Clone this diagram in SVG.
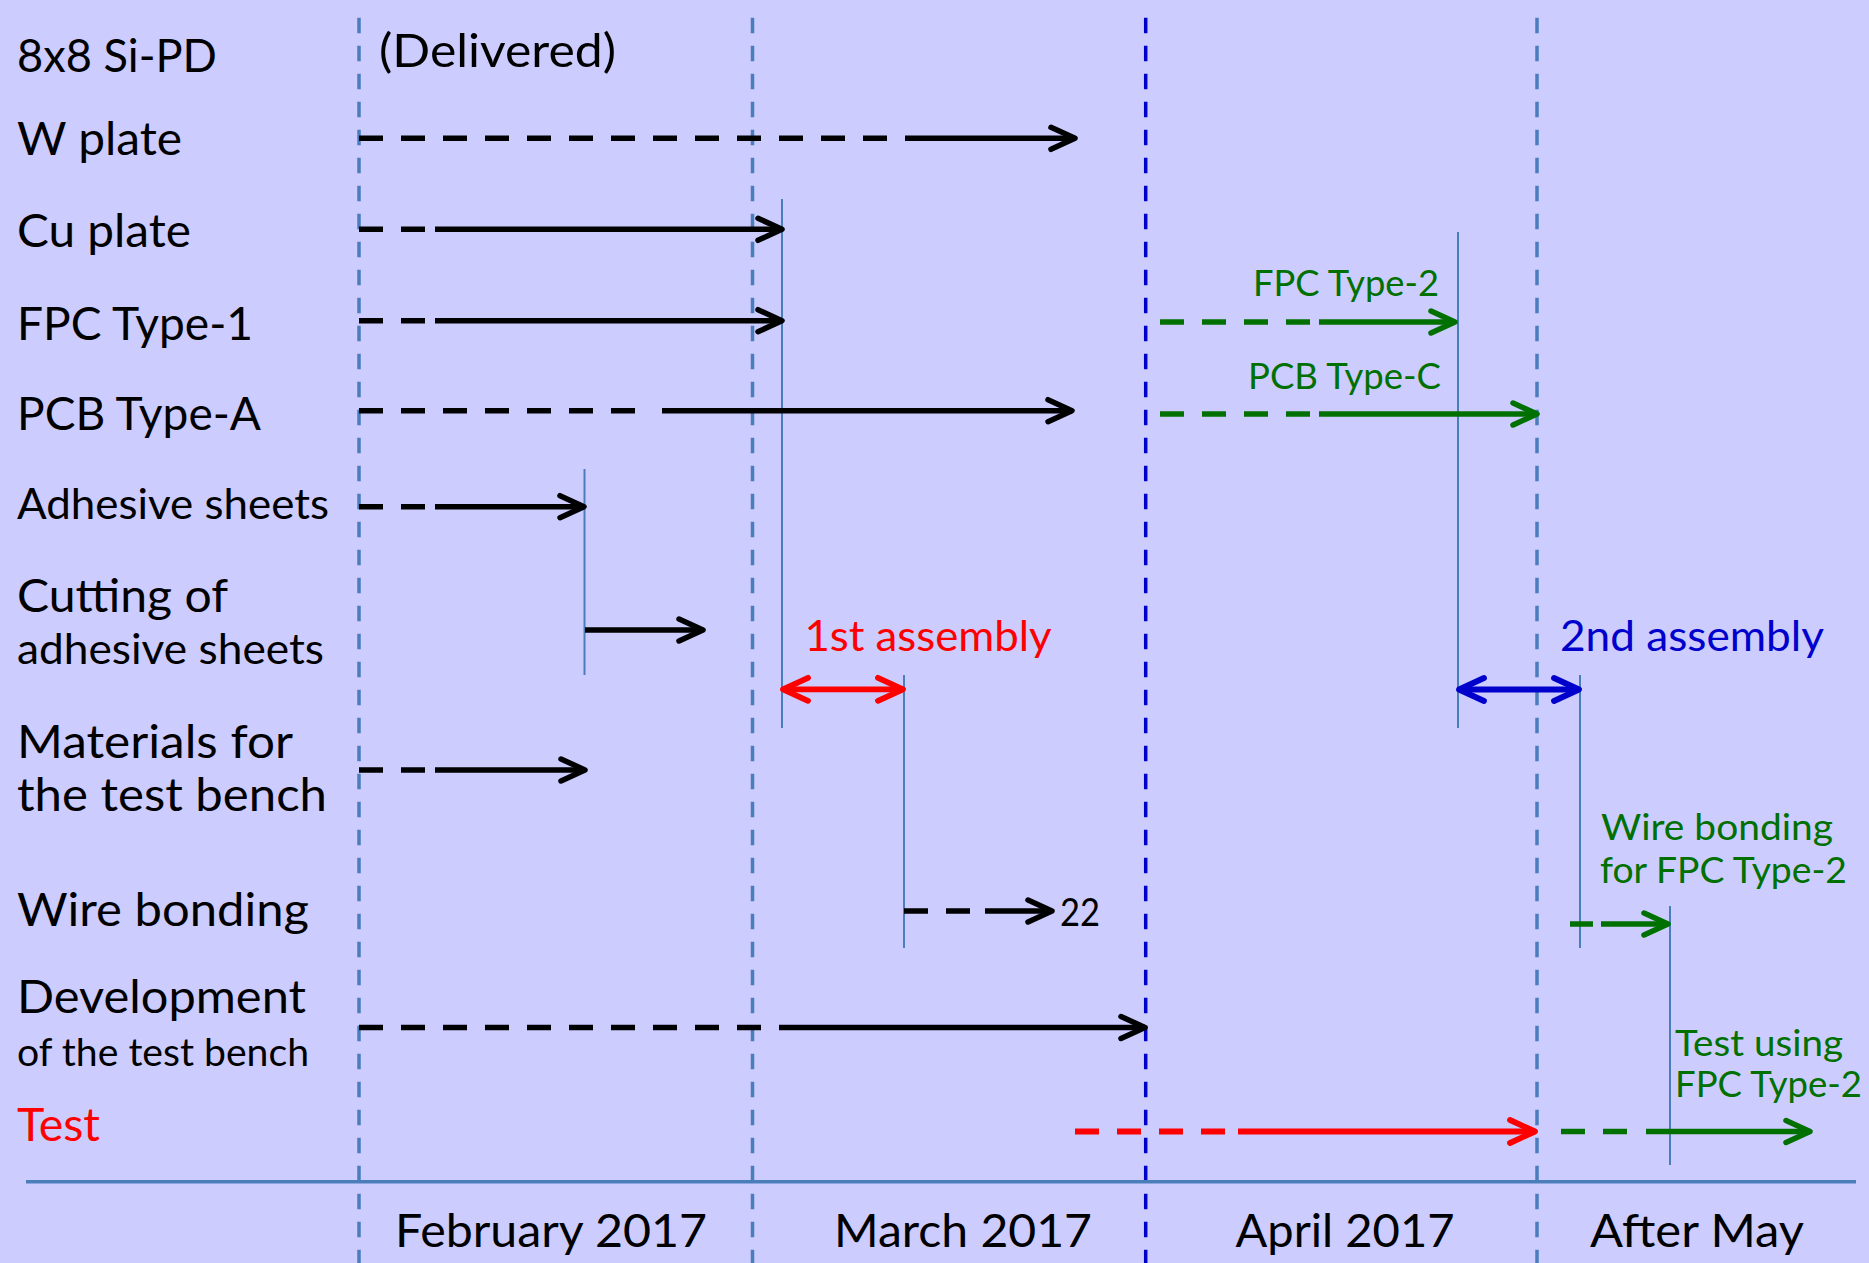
<svg xmlns="http://www.w3.org/2000/svg" width="1869" height="1263" viewBox="0 0 1869 1263">
  <style>
    text { font-family: Lato, "Liberation Sans", sans-serif; }
    .lbl { font-size: 46.5px; fill: #000; }
    .lbl-s { font-size: 42.5px; fill: #000; }
    .lbl-xs { font-size: 37.8px; fill: #000; }
    .grn { font-size: 37.2px; fill: #007000; }
    .red { fill: #ff0000; }
    .blu { fill: #0000cc; }
    .grid { stroke: #4a7ebb; stroke-width: 3.5; stroke-dasharray: 15.5 12.5; fill: none; }
    .grid-dk { stroke: #0000cc; }
    .axis { stroke: #4a7ebb; stroke-width: 3.5; fill: none; }
    .tick { stroke: #4a7ebb; stroke-width: 2; fill: none; }
    .k { stroke: #000; stroke-width: 5.5; fill: none; }
    .r { stroke: #ff0000; stroke-width: 5.8; fill: none; }
    .g { stroke: #007000; stroke-width: 5.5; fill: none; }
    .b { stroke: #0000cc; stroke-width: 5.8; fill: none; }
    .dash { stroke-dasharray: 24 18; }
  </style>
  <defs>
    <marker id="ah-k" markerUnits="userSpaceOnUse" viewBox="-32 -20 40 40" markerWidth="40" markerHeight="40" refX="0" refY="0" orient="auto-start-reverse" overflow="visible">
      <path d="M-24,-11 L0,0 L-24,11" fill="none" stroke="#000" stroke-width="5.5" stroke-linecap="round" stroke-linejoin="round"/>
    </marker>
    <marker id="ah-r" markerUnits="userSpaceOnUse" viewBox="-32 -20 40 40" markerWidth="40" markerHeight="40" refX="0" refY="0" orient="auto-start-reverse" overflow="visible">
      <path d="M-25,-11.5 L0,0 L-25,11.5" fill="none" stroke="#ff0000" stroke-width="5.8" stroke-linecap="round" stroke-linejoin="round"/>
    </marker>
    <marker id="ah-g" markerUnits="userSpaceOnUse" viewBox="-32 -20 40 40" markerWidth="40" markerHeight="40" refX="0" refY="0" orient="auto-start-reverse" overflow="visible">
      <path d="M-24,-11 L0,0 L-24,11" fill="none" stroke="#007000" stroke-width="5.5" stroke-linecap="round" stroke-linejoin="round"/>
    </marker>
    <marker id="ah-b" markerUnits="userSpaceOnUse" viewBox="-32 -20 40 40" markerWidth="40" markerHeight="40" refX="0" refY="0" orient="auto-start-reverse" overflow="visible">
      <path d="M-25,-11.5 L0,0 L-25,11.5" fill="none" stroke="#0000cc" stroke-width="5.8" stroke-linecap="round" stroke-linejoin="round"/>
    </marker>
  </defs>

  <rect x="0" y="0" width="1869" height="1263" fill="#ccccff"/>

  <!-- month boundaries and time axis -->
  <g id="timeline">
    <line class="grid" x1="359" y1="17.7" x2="359" y2="1263"/>
    <line class="grid" x1="752.5" y1="17.7" x2="752.5" y2="1263"/>
    <line class="grid grid-dk" x1="1145.7" y1="17.7" x2="1145.7" y2="1263"/>
    <line class="grid" x1="1537" y1="17.7" x2="1537" y2="1263"/>
    <line class="axis" x1="26" y1="1181.7" x2="1856" y2="1181.7"/>
    <text class="lbl" x="395" y="1246.5" textLength="312" lengthAdjust="spacingAndGlyphs">February 2017</text>
    <text class="lbl" x="834" y="1246.5" textLength="258" lengthAdjust="spacingAndGlyphs">March 2017</text>
    <text class="lbl" x="1235.5" y="1246.5" textLength="219" lengthAdjust="spacingAndGlyphs">April 2017</text>
    <text class="lbl" x="1590" y="1246.5" textLength="214" lengthAdjust="spacingAndGlyphs">After May</text>
  </g>

  <!-- task rows -->
  <g id="row-sipd">
    <text class="lbl" x="17" y="72" textLength="200" lengthAdjust="spacingAndGlyphs">8x8 Si-PD</text>
    <text class="lbl" x="379" y="67" textLength="237" lengthAdjust="spacingAndGlyphs">(Delivered)</text>
  </g>
  <g id="row-w-plate">
    <text class="lbl" x="17" y="155" textLength="165" lengthAdjust="spacingAndGlyphs">W plate</text>
  </g>
  <g id="row-cu-plate">
    <text class="lbl" x="17" y="246.5" textLength="174" lengthAdjust="spacingAndGlyphs">Cu plate</text>
  </g>
  <g id="row-fpc1">
    <text class="lbl" x="17" y="340" textLength="236" lengthAdjust="spacingAndGlyphs">FPC Type-1</text>
  </g>
  <g id="row-pcba">
    <text class="lbl" x="17" y="430" textLength="244" lengthAdjust="spacingAndGlyphs">PCB Type-A</text>
  </g>
  <g id="row-adhesive">
    <text class="lbl-s" x="17" y="519" textLength="312" lengthAdjust="spacingAndGlyphs">Adhesive sheets</text>
  </g>
  <g id="row-cutting">
    <text class="lbl" x="17" y="611.5" textLength="211" lengthAdjust="spacingAndGlyphs">Cutting of</text>
    <text class="lbl-s" x="17" y="664" textLength="307" lengthAdjust="spacingAndGlyphs">adhesive sheets</text>
  </g>
  <g id="row-materials">
    <text class="lbl" x="17" y="758" textLength="276" lengthAdjust="spacingAndGlyphs">Materials for</text>
    <text class="lbl" x="17" y="811" textLength="310" lengthAdjust="spacingAndGlyphs">the test bench</text>
  </g>
  <g id="row-wire">
    <text class="lbl" x="17" y="926" textLength="292" lengthAdjust="spacingAndGlyphs">Wire bonding</text>
    <text class="lbl-xs" x="1060" y="926" textLength="40" lengthAdjust="spacingAndGlyphs">22</text>
  </g>
  <g id="row-development">
    <text class="lbl" x="17" y="1013" textLength="289" lengthAdjust="spacingAndGlyphs">Development</text>
    <text class="lbl-xs" x="17" y="1066" textLength="292" lengthAdjust="spacingAndGlyphs">of the test bench</text>
  </g>
  <g id="row-test">
    <text class="lbl red" x="17" y="1141" textLength="83" lengthAdjust="spacingAndGlyphs">Test</text>
  </g>

  <!-- later items and milestones -->
  <g id="item-fpc2">
    <text class="grn" x="1253" y="295.5" textLength="186" lengthAdjust="spacingAndGlyphs">FPC Type-2</text>
  </g>
  <g id="item-pcbc">
    <text class="grn" x="1248" y="389" textLength="193" lengthAdjust="spacingAndGlyphs">PCB Type-C</text>
  </g>
  <g id="item-assembly1">
    <text class="lbl-s red" x="804.5" y="650.7" textLength="247" lengthAdjust="spacingAndGlyphs">1st assembly</text>
  </g>
  <g id="item-assembly2">
    <text class="lbl-s blu" x="1560" y="651" textLength="264" lengthAdjust="spacingAndGlyphs">2nd assembly</text>
  </g>
  <g id="item-wire2">
    <text class="grn" x="1601" y="840" textLength="232" lengthAdjust="spacingAndGlyphs">Wire bonding</text>
    <text class="grn" x="1600" y="883" textLength="247" lengthAdjust="spacingAndGlyphs">for FPC Type-2</text>
  </g>
  <g id="item-test2">
    <text class="grn" x="1675" y="1055.5" textLength="168" lengthAdjust="spacingAndGlyphs">Test using</text>
    <text class="grn" x="1675" y="1097" textLength="187" lengthAdjust="spacingAndGlyphs">FPC Type-2</text>
  </g>

  <!-- dependency ticks -->
  <g id="ticks">
    <line class="tick" x1="782" y1="199" x2="782" y2="728"/>
    <line class="tick" x1="584.5" y1="469" x2="584.5" y2="675"/>
    <line class="tick" x1="904" y1="675" x2="904" y2="948"/>
    <line class="tick" x1="1458" y1="232" x2="1458" y2="728"/>
    <line class="tick" x1="1580" y1="675" x2="1580" y2="948"/>
    <line class="tick" x1="1670" y1="906" x2="1670" y2="1165"/>
  </g>

  <!-- schedule arrows: dashed = planned, solid = in progress -->
  <g id="connectors">
    <line class="k dash" x1="359" y1="138.3" x2="888" y2="138.3"/>
    <line class="k" x1="905" y1="138.3" x2="1075" y2="138.3" marker-end="url(#ah-k)"/>

    <line class="k dash" x1="359" y1="229.3" x2="426" y2="229.3"/>
    <line class="k" x1="435" y1="229.3" x2="782" y2="229.3" marker-end="url(#ah-k)"/>

    <line class="k dash" x1="359" y1="320.7" x2="426" y2="320.7"/>
    <line class="k" x1="435" y1="320.7" x2="782" y2="320.7" marker-end="url(#ah-k)"/>

    <line class="k dash" x1="359" y1="410.7" x2="636" y2="410.7"/>
    <line class="k" x1="662" y1="410.7" x2="1072" y2="410.7" marker-end="url(#ah-k)"/>

    <line class="k dash" x1="359" y1="506.7" x2="426" y2="506.7"/>
    <line class="k" x1="435" y1="506.7" x2="584" y2="506.7" marker-end="url(#ah-k)"/>

    <line class="k" x1="585" y1="630" x2="703" y2="630" marker-end="url(#ah-k)"/>

    <line class="k dash" x1="359" y1="770" x2="426" y2="770"/>
    <line class="k" x1="435" y1="770" x2="585" y2="770" marker-end="url(#ah-k)"/>

    <line class="k dash" x1="904" y1="911" x2="971" y2="911"/>
    <line class="k" x1="985" y1="911" x2="1052" y2="911" marker-end="url(#ah-k)"/>

    <line class="k dash" x1="359" y1="1027.5" x2="762" y2="1027.5"/>
    <line class="k" x1="779" y1="1027.5" x2="1145" y2="1027.5" marker-end="url(#ah-k)"/>

    <line class="r dash" x1="1075" y1="1131.5" x2="1226" y2="1131.5"/>
    <line class="r" x1="1238" y1="1131.5" x2="1535" y2="1131.5" marker-end="url(#ah-r)"/>

    <line class="g dash" x1="1561" y1="1131.5" x2="1628" y2="1131.5"/>
    <line class="g" x1="1646" y1="1131.5" x2="1810" y2="1131.5" marker-end="url(#ah-g)"/>

    <line class="g dash" x1="1160" y1="322" x2="1312" y2="322"/>
    <line class="g" x1="1319" y1="322" x2="1455" y2="322" marker-end="url(#ah-g)"/>

    <line class="g dash" x1="1160" y1="414" x2="1312" y2="414"/>
    <line class="g" x1="1319" y1="414" x2="1537" y2="414" marker-end="url(#ah-g)"/>

    <line class="g" x1="1570" y1="924" x2="1593" y2="924"/>
    <line class="g" x1="1601" y1="924" x2="1668" y2="924" marker-end="url(#ah-g)"/>

    <line class="r" x1="783" y1="689.3" x2="903" y2="689.3" marker-start="url(#ah-r)" marker-end="url(#ah-r)"/>
    <line class="b" x1="1459" y1="689.5" x2="1579" y2="689.5" marker-start="url(#ah-b)" marker-end="url(#ah-b)"/>
  </g>
</svg>
